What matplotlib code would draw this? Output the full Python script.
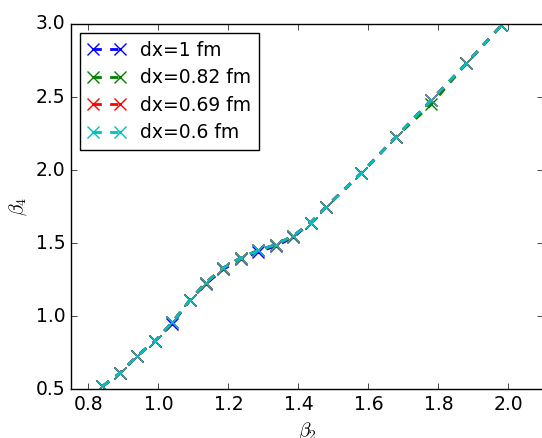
import numpy as np
import matplotlib
matplotlib.use('Agg')
import matplotlib.pyplot as plt

plt.style.use('classic')
plt.rcParams['mathtext.fontset'] = 'cm'

# beta2 grid (same for all runs)
beta2 = [0.84, 0.89, 0.94, 0.99, 1.04, 1.09, 1.135, 1.185, 1.235, 1.285,
         1.335, 1.385, 1.435, 1.48, 1.58, 1.68, 1.78, 1.88, 1.98]

# beta4 for each grid spacing
b4_dx100 = [0.52, 0.61, 0.73, 0.83, 0.95, 1.11, 1.22, 1.32, 1.39, 1.44,
            1.48, 1.54, 1.64, 1.75, 1.98, 2.23, 2.48, 2.73, 2.99]
b4_dx082 = [0.52, 0.61, 0.73, 0.83, 0.96, 1.11, 1.23, 1.33, 1.40, 1.45,
            1.49, 1.55, 1.64, 1.75, 1.98, 2.23, 2.45, 2.73, 2.99]
b4_dx069 = [0.52, 0.61, 0.73, 0.83, 0.96, 1.11, 1.23, 1.33, 1.40, 1.45,
            1.49, 1.55, 1.64, 1.75, 1.98, 2.23, 2.48, 2.73, 2.99]
b4_dx060 = [0.52, 0.61, 0.73, 0.83, 0.96, 1.11, 1.23, 1.33, 1.40, 1.45,
            1.49, 1.55, 1.64, 1.75, 1.98, 2.23, 2.48, 2.73, 2.99]

labels = ['dx=1 fm', 'dx=0.82 fm', 'dx=0.69 fm', 'dx=0.6 fm']
colors = ['b', 'g', 'r', 'c']

fig = plt.figure(figsize=(5.42, 4.38), dpi=100, facecolor='white')
ax = fig.add_axes([70.9/542, 48.7/438, 472.5/542, 365.3/438])

for y, lab, col in zip([b4_dx100, b4_dx082, b4_dx069, b4_dx060], labels, colors):
    ax.plot(beta2, y, 'x--', color=col, lw=2, ms=9, mew=1.0, label=lab)

ax.set_xlim(0.75, 2.1)
ax.set_ylim(0.5, 3.0)
ax.set_xticks(np.arange(0.8, 2.01, 0.2))
ax.set_yticks(np.arange(0.5, 3.01, 0.5))
ax.tick_params(labelsize=13.5)
ax.set_xlabel(r'$\beta_2$', fontsize=14)
ax.set_ylabel(r'$\beta_4$', fontsize=14)

leg = ax.legend(loc='upper left', numpoints=2, fontsize=13.5,
                handlelength=2.0, borderaxespad=0.5, labelspacing=0.45)

fig.savefig('out.png', dpi=100, facecolor='white')
